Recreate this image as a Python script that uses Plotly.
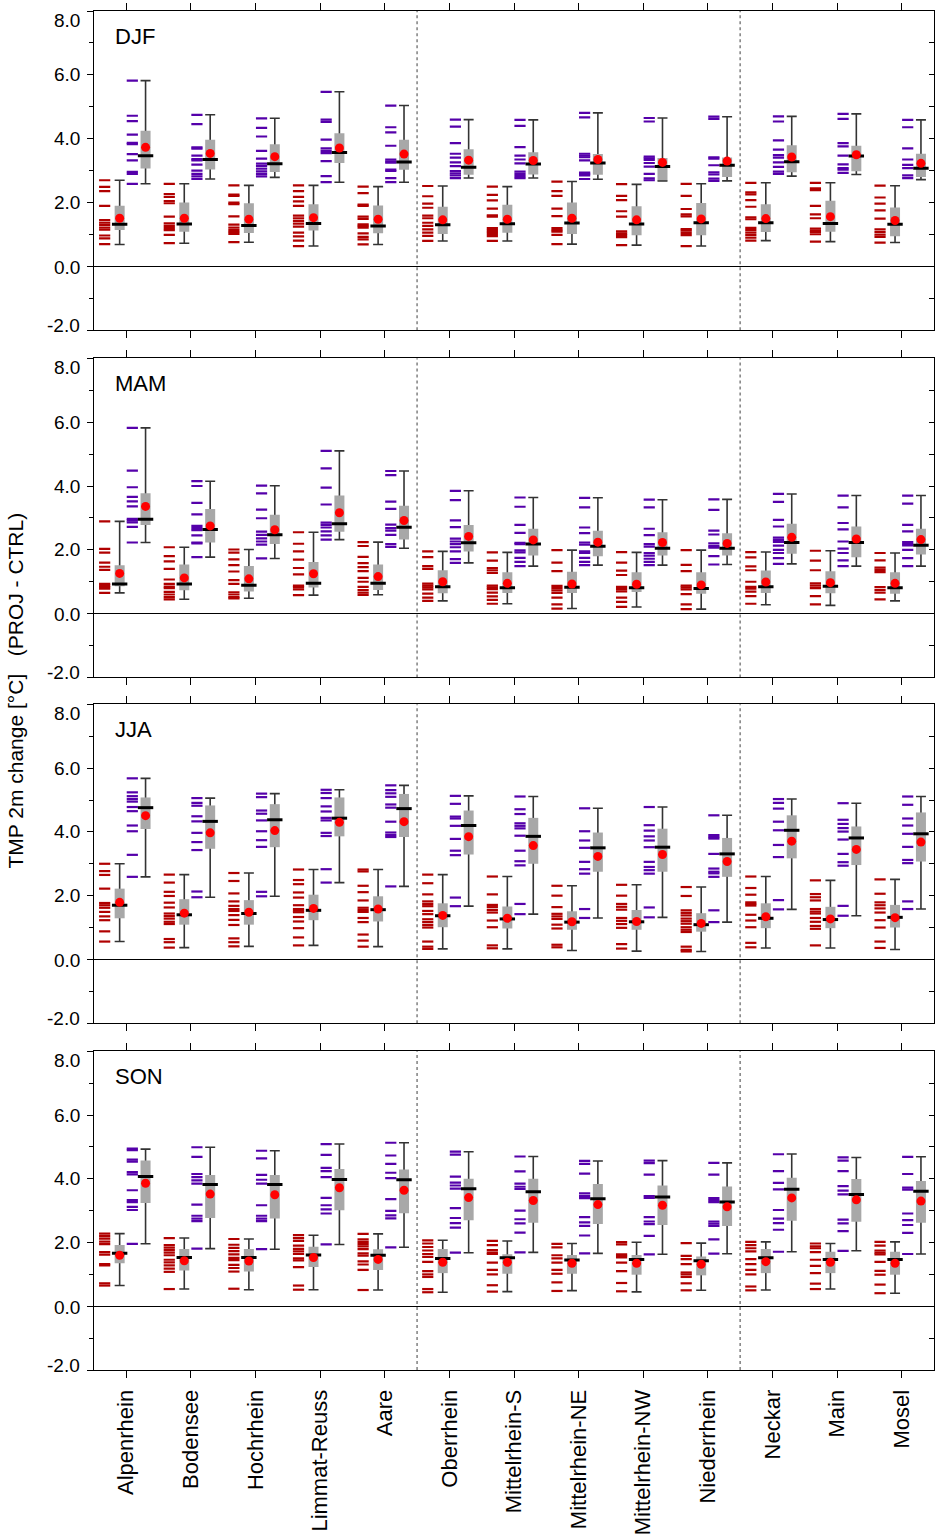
import plotly.graph_objects as go

REGIONS = ["Alpenrhein", "Bodensee", "Hochrhein", "Limmat-Reuss", "Aare", "Oberrhein",
           "Mittelrhein-S", "Mittelrhein-NE", "Mittelrhein-NW", "Niederrhein",
           "Neckar", "Main", "Mosel"]
SEASONS = ["DJF", "MAM", "JJA", "SON"]
Y_TICKS = [-2, 0, 2, 4, 6, 8]

# stats per region: [min, q25, median, q75, max, mean]
DJF_NEAR_STATS = [
    [0.69, 1.14, 1.32, 1.90, 2.70, 1.51], [0.73, 1.09, 1.33, 2.00, 2.59, 1.51],
    [0.76, 1.05, 1.28, 1.98, 2.54, 1.48], [0.64, 1.13, 1.35, 1.95, 2.54, 1.53],
    [0.69, 1.04, 1.27, 1.91, 2.50, 1.48], [0.80, 1.02, 1.31, 1.87, 2.52, 1.46],
    [0.80, 1.06, 1.34, 1.93, 2.50, 1.48], [0.70, 1.02, 1.36, 2.00, 2.66, 1.51],
    [0.67, 0.98, 1.33, 1.89, 2.57, 1.46], [0.64, 0.98, 1.37, 1.99, 2.59, 1.49],
    [0.81, 1.08, 1.37, 1.95, 2.62, 1.50], [0.78, 1.09, 1.35, 2.06, 2.62, 1.56],
    [0.75, 0.95, 1.32, 1.85, 2.53, 1.44]]
DJF_FAR_STATS = [
    [2.59, 3.07, 3.47, 4.25, 5.82, 3.73], [2.74, 3.04, 3.35, 3.97, 4.75, 3.54],
    [2.79, 2.96, 3.22, 3.83, 4.64, 3.44], [2.64, 3.24, 3.57, 4.17, 5.47, 3.71],
    [2.64, 3.03, 3.27, 3.97, 5.04, 3.52], [2.77, 2.87, 3.11, 3.67, 4.60, 3.33],
    [2.77, 2.88, 3.21, 3.58, 4.59, 3.32], [2.73, 2.87, 3.24, 3.52, 4.81, 3.35],
    [2.68, 2.70, 3.13, 3.40, 4.65, 3.26], [2.68, 2.80, 3.17, 3.41, 4.69, 3.30],
    [2.83, 2.95, 3.28, 3.80, 4.70, 3.43], [2.88, 2.98, 3.46, 3.78, 4.78, 3.50],
    [2.72, 2.80, 3.08, 3.53, 4.59, 3.23]]
MAM_NEAR_STATS = [
    [0.65, 0.86, 0.93, 1.52, 2.89, 1.26], [0.45, 0.73, 0.93, 1.54, 2.08, 1.12],
    [0.48, 0.69, 0.89, 1.49, 2.01, 1.09], [0.58, 0.82, 0.95, 1.62, 2.55, 1.25],
    [0.59, 0.74, 0.95, 1.54, 2.24, 1.16], [0.40, 0.64, 0.84, 1.36, 1.95, 1.00],
    [0.31, 0.65, 0.81, 1.30, 1.92, 0.95], [0.16, 0.65, 0.83, 1.31, 1.99, 0.93],
    [0.21, 0.68, 0.81, 1.30, 1.92, 0.92], [0.14, 0.62, 0.79, 1.30, 1.99, 0.90],
    [0.28, 0.65, 0.84, 1.35, 1.93, 0.99], [0.26, 0.64, 0.86, 1.33, 1.97, 0.97],
    [0.40, 0.62, 0.81, 1.30, 1.90, 0.95]]
MAM_FAR_STATS = [
    [2.23, 2.78, 2.96, 3.77, 5.82, 3.36], [1.77, 2.23, 2.64, 3.28, 4.15, 2.75],
    [1.73, 2.18, 2.47, 3.10, 4.01, 2.63], [2.32, 2.57, 2.82, 3.70, 5.10, 3.16],
    [2.05, 2.32, 2.71, 3.38, 4.47, 2.92], [1.59, 1.95, 2.22, 2.78, 3.85, 2.42],
    [1.49, 1.82, 2.18, 2.66, 3.64, 2.31], [1.52, 1.80, 2.11, 2.60, 3.63, 2.24],
    [1.52, 1.82, 2.05, 2.55, 3.57, 2.23], [1.54, 1.82, 2.05, 2.52, 3.58, 2.20],
    [1.56, 1.88, 2.23, 2.82, 3.75, 2.39], [1.49, 1.77, 2.23, 2.73, 3.70, 2.34],
    [1.49, 1.85, 2.14, 2.66, 3.70, 2.32]]
JJA_NEAR_STATS = [
    [0.56, 1.29, 1.70, 2.22, 3.00, 1.79], [0.37, 1.09, 1.40, 1.89, 2.66, 1.45],
    [0.41, 1.09, 1.44, 1.86, 2.71, 1.48], [0.44, 1.23, 1.54, 2.03, 2.82, 1.60],
    [0.40, 1.19, 1.56, 1.98, 2.82, 1.58], [0.33, 1.01, 1.37, 1.76, 2.66, 1.38],
    [0.33, 0.97, 1.27, 1.66, 2.60, 1.29], [0.28, 0.93, 1.17, 1.51, 2.31, 1.18],
    [0.26, 0.93, 1.18, 1.55, 2.34, 1.19], [0.25, 0.87, 1.09, 1.45, 2.27, 1.13],
    [0.36, 0.98, 1.29, 1.76, 2.60, 1.34], [0.36, 0.98, 1.25, 1.65, 2.48, 1.27],
    [0.31, 1.00, 1.32, 1.71, 2.51, 1.31]]
JJA_FAR_STATS = [
    [2.59, 4.09, 4.76, 5.08, 5.68, 4.51], [1.95, 3.47, 4.33, 4.83, 5.06, 3.97],
    [1.98, 3.52, 4.38, 4.87, 5.20, 4.04], [2.41, 3.86, 4.43, 5.08, 5.32, 4.30],
    [2.29, 3.84, 4.73, 5.19, 5.46, 4.32], [1.67, 3.29, 4.20, 4.67, 5.13, 3.85],
    [1.42, 3.00, 3.86, 4.44, 5.11, 3.57], [1.30, 2.75, 3.50, 3.98, 4.74, 3.23],
    [1.32, 2.75, 3.52, 4.10, 4.78, 3.29], [1.17, 2.59, 3.31, 3.81, 4.52, 3.07],
    [1.57, 3.17, 4.05, 4.52, 5.03, 3.71], [1.37, 2.96, 3.81, 4.17, 4.90, 3.45],
    [1.58, 3.07, 3.94, 4.61, 5.11, 3.68]]
SON_NEAR_STATS = [
    [0.65, 1.35, 1.66, 1.92, 2.28, 1.60], [0.54, 1.12, 1.53, 1.80, 2.14, 1.43],
    [0.52, 1.09, 1.53, 1.80, 2.11, 1.42], [0.52, 1.23, 1.61, 1.87, 2.23, 1.53],
    [0.51, 1.14, 1.60, 1.79, 2.27, 1.47], [0.44, 1.04, 1.50, 1.80, 2.07, 1.38],
    [0.46, 1.02, 1.52, 1.63, 2.05, 1.38], [0.49, 1.02, 1.45, 1.61, 1.97, 1.35],
    [0.45, 0.99, 1.47, 1.61, 2.01, 1.35], [0.50, 0.97, 1.43, 1.56, 1.98, 1.32],
    [0.51, 1.04, 1.52, 1.80, 2.02, 1.40], [0.54, 1.04, 1.47, 1.71, 1.97, 1.38],
    [0.41, 0.99, 1.47, 1.71, 2.02, 1.35]]
SON_FAR_STATS = [
    [1.96, 3.24, 4.07, 4.57, 4.93, 3.86], [1.81, 2.77, 3.82, 4.12, 4.99, 3.52],
    [1.79, 2.75, 3.82, 4.12, 4.88, 3.50], [1.94, 3.01, 3.98, 4.31, 5.09, 3.72],
    [1.85, 2.92, 3.97, 4.29, 5.13, 3.64], [1.68, 2.70, 3.69, 4.00, 4.85, 3.41],
    [1.69, 2.62, 3.59, 4.00, 4.70, 3.32], [1.66, 2.58, 3.37, 3.84, 4.56, 3.19],
    [1.63, 2.55, 3.43, 3.79, 4.57, 3.17], [1.65, 2.52, 3.27, 3.76, 4.50, 3.12],
    [1.71, 2.68, 3.67, 4.03, 4.78, 3.40], [1.74, 2.65, 3.51, 3.99, 4.67, 3.34],
    [1.64, 2.62, 3.61, 3.93, 4.69, 3.30]]

# individual model values per region
DJF_NEAR_MEMBERS = [
    [2.70, 2.49, 2.36, 1.90, 1.45, 1.37, 1.30, 1.22, 1.15, 0.97, 0.88, 0.70],
    [2.59, 2.27, 2.18, 2.05, 1.98, 1.56, 1.35, 1.27, 1.20, 1.14, 0.99, 0.73],
    [2.54, 2.25, 2.21, 2.00, 1.95, 1.57, 1.31, 1.22, 1.14, 1.08, 1.02, 0.76],
    [2.54, 2.36, 2.18, 2.04, 1.90, 1.59, 1.51, 1.43, 1.34, 1.25, 1.06, 0.94, 0.81, 0.64],
    [2.50, 2.30, 1.94, 1.90, 1.56, 1.49, 1.32, 1.27, 1.22, 1.04, 0.93, 0.85, 0.69],
    [2.52, 2.20, 1.97, 1.84, 1.59, 1.51, 1.37, 1.27, 1.16, 1.06, 0.96, 0.80],
    [2.50, 2.24, 2.07, 1.81, 1.60, 1.56, 1.20, 1.14, 1.08, 1.02, 0.95, 0.80],
    [2.66, 2.36, 2.21, 1.81, 1.58, 1.20, 1.14, 1.09, 0.99, 0.70],
    [2.58, 2.21, 2.08, 1.73, 1.56, 1.10, 1.04, 0.98, 0.92, 0.67],
    [2.59, 2.21, 1.80, 1.63, 1.57, 1.17, 1.12, 1.05, 0.98, 0.64],
    [2.62, 2.32, 2.26, 2.08, 1.87, 1.54, 1.48, 1.21, 1.14, 1.06, 0.98, 0.90, 0.81],
    [2.62, 2.45, 2.39, 1.90, 1.63, 1.51, 1.19, 1.13, 1.08, 1.01, 0.78],
    [2.53, 2.16, 1.97, 1.76, 1.50, 1.16, 1.08, 1.00, 0.93, 0.75]]
DJF_FAR_MEMBERS = [
    [5.82, 4.72, 4.55, 4.13, 3.87, 3.83, 3.52, 3.32, 2.96, 2.90, 2.59],
    [4.75, 4.46, 3.73, 3.69, 3.47, 3.36, 3.32, 3.19, 3.00, 2.90, 2.82, 2.74],
    [4.64, 4.34, 4.07, 3.62, 3.38, 3.22, 3.14, 3.06, 2.98, 2.90, 2.82],
    [5.47, 4.60, 4.53, 3.97, 3.70, 3.62, 3.55, 3.30, 2.83, 2.64],
    [5.04, 4.36, 4.20, 3.78, 3.35, 3.29, 3.25, 3.03, 2.99, 2.77, 2.64],
    [4.60, 4.38, 3.86, 3.53, 3.41, 3.26, 3.14, 2.99, 2.92, 2.85, 2.77],
    [4.59, 4.40, 3.74, 3.47, 3.35, 3.23, 2.97, 2.90, 2.83, 2.77],
    [4.81, 4.67, 3.53, 3.47, 3.42, 3.32, 2.94, 2.90, 2.85, 2.74],
    [4.65, 4.54, 3.44, 3.39, 3.34, 3.24, 3.13, 2.90, 2.76, 2.70],
    [4.69, 4.62, 3.42, 3.38, 3.17, 2.95, 2.88, 2.75, 2.68],
    [4.70, 4.54, 3.95, 3.66, 3.49, 3.41, 3.26, 3.12, 2.97, 2.90],
    [4.78, 4.62, 3.86, 3.76, 3.47, 3.20, 3.08, 3.03, 2.93],
    [4.59, 4.36, 3.70, 3.35, 3.18, 3.08, 2.85, 2.77]]
MAM_NEAR_MEMBERS = [
    [2.89, 2.03, 1.91, 1.60, 1.47, 1.37, 0.93, 0.88, 0.83, 0.78, 0.65],
    [2.08, 1.80, 1.64, 1.40, 1.07, 0.93, 0.85, 0.80, 0.68, 0.60, 0.52, 0.45],
    [2.01, 1.91, 1.70, 1.52, 1.32, 1.05, 0.93, 0.67, 0.60, 0.52, 0.48],
    [2.55, 2.19, 1.95, 1.69, 1.43, 1.23, 0.88, 0.83, 0.76, 0.58],
    [2.24, 2.12, 1.78, 1.58, 1.46, 1.33, 1.12, 1.00, 0.84, 0.74, 0.66, 0.59],
    [1.95, 1.77, 1.49, 1.40, 0.94, 0.88, 0.82, 0.76, 0.63, 0.50, 0.40],
    [1.92, 1.66, 1.43, 1.36, 1.28, 0.88, 0.82, 0.77, 0.66, 0.54, 0.43, 0.31],
    [1.99, 1.60, 1.33, 0.87, 0.80, 0.73, 0.65, 0.50, 0.29, 0.16],
    [1.93, 1.60, 1.35, 1.21, 0.84, 0.77, 0.70, 0.50, 0.37, 0.21],
    [1.99, 1.53, 1.33, 0.88, 0.82, 0.76, 0.61, 0.29, 0.14],
    [1.93, 1.76, 1.48, 1.36, 1.00, 0.84, 0.78, 0.69, 0.55, 0.31],
    [1.97, 1.66, 1.36, 0.95, 0.88, 0.80, 0.55, 0.29],
    [1.90, 1.67, 1.44, 1.37, 1.30, 0.83, 0.74, 0.66, 0.45]]
MAM_FAR_MEMBERS = [
    [5.82, 4.48, 3.96, 3.66, 3.52, 3.36, 2.97, 2.92, 2.86, 2.72, 2.23],
    [4.15, 4.00, 3.47, 3.11, 2.75, 2.68, 2.62, 2.45, 2.23, 2.20, 1.77],
    [4.01, 3.77, 3.26, 2.99, 2.57, 2.47, 2.36, 2.26, 2.16, 1.73],
    [5.10, 4.55, 3.95, 3.42, 2.85, 2.78, 2.70, 2.58, 2.45, 2.32],
    [4.47, 4.34, 3.51, 3.28, 2.79, 2.68, 2.60, 2.47, 2.18, 2.09],
    [3.85, 3.56, 2.92, 2.71, 2.35, 2.26, 2.18, 2.08, 1.95, 1.71, 1.59],
    [3.64, 3.35, 2.78, 2.53, 2.22, 2.18, 1.98, 1.92, 1.75, 1.62, 1.49],
    [3.63, 3.33, 2.70, 2.52, 2.23, 2.16, 1.95, 1.90, 1.75, 1.62, 1.52],
    [3.57, 3.33, 2.66, 2.46, 2.18, 2.10, 1.90, 1.82, 1.72, 1.62, 1.52],
    [3.58, 3.25, 2.60, 2.48, 2.20, 2.12, 2.07, 1.80, 1.54],
    [3.75, 3.50, 2.94, 2.73, 2.38, 2.31, 2.25, 2.13, 2.00, 1.90, 1.74, 1.56],
    [3.70, 3.33, 2.84, 2.64, 2.26, 2.04, 1.90, 1.67, 1.49],
    [3.70, 3.45, 2.78, 2.58, 2.24, 2.18, 2.14, 2.00, 1.74, 1.49]]
JJA_NEAR_MEMBERS = [
    [3.00, 2.77, 2.65, 2.22, 1.77, 1.70, 1.62, 1.49, 1.35, 1.23, 0.88, 0.56],
    [2.66, 2.41, 2.12, 1.99, 1.78, 1.63, 1.44, 1.36, 1.28, 1.18, 1.11, 0.64, 0.54, 0.37],
    [2.71, 2.46, 2.07, 1.82, 1.68, 1.58, 1.52, 1.39, 1.24, 1.08, 0.66, 0.54, 0.41],
    [2.82, 2.49, 2.36, 2.10, 1.94, 1.70, 1.58, 1.53, 1.48, 1.33, 1.19, 0.98, 0.69, 0.44],
    [2.82, 2.76, 2.31, 2.11, 1.85, 1.62, 1.55, 1.49, 1.30, 1.17, 0.78, 0.59, 0.40],
    [2.66, 2.39, 2.04, 1.82, 1.74, 1.67, 1.52, 1.42, 1.26, 1.17, 1.08, 1.00, 0.56, 0.40, 0.33],
    [2.60, 2.04, 1.71, 1.64, 1.55, 1.47, 1.22, 1.01, 0.44, 0.35],
    [2.31, 2.00, 1.64, 1.43, 1.35, 1.27, 1.09, 0.97, 0.46, 0.38],
    [2.34, 2.00, 1.74, 1.65, 1.56, 1.30, 1.21, 1.11, 0.99, 0.48, 0.34],
    [2.27, 1.99, 1.54, 1.46, 1.38, 1.28, 1.20, 1.12, 1.01, 0.93, 0.86, 0.40, 0.30, 0.25],
    [2.60, 2.24, 2.03, 1.79, 1.74, 1.69, 1.40, 1.22, 1.01, 0.52, 0.38],
    [2.48, 2.05, 1.95, 1.85, 1.58, 1.50, 1.44, 1.30, 1.18, 1.05, 0.96, 0.44],
    [2.51, 2.06, 1.79, 1.70, 1.60, 1.47, 1.23, 1.00, 0.56, 0.36]]
JJA_FAR_MEMBERS = [
    [5.68, 5.24, 5.12, 5.03, 4.95, 4.78, 4.65, 4.20, 4.02, 3.28, 2.59],
    [5.06, 4.91, 4.82, 4.49, 4.33, 3.97, 3.68, 3.43, 2.13, 1.95],
    [5.20, 5.09, 4.67, 4.57, 4.36, 4.02, 3.74, 3.53, 2.12, 1.98],
    [5.32, 5.22, 5.06, 4.80, 4.64, 4.44, 4.36, 3.97, 3.87, 2.83, 2.41],
    [5.46, 5.31, 5.21, 5.10, 4.86, 4.76, 4.32, 3.98, 3.90, 3.84, 2.29],
    [5.13, 4.88, 4.48, 4.42, 4.19, 3.78, 3.41, 3.27, 1.94, 1.67],
    [5.11, 4.71, 4.56, 4.27, 4.19, 4.11, 3.88, 3.41, 3.08, 2.95, 1.74, 1.42],
    [4.74, 4.02, 3.73, 3.50, 3.06, 2.83, 2.69, 1.58, 1.30],
    [4.78, 4.21, 4.04, 3.86, 3.73, 3.52, 3.06, 2.90, 2.80, 2.69, 1.63, 1.32],
    [4.52, 3.90, 3.84, 3.79, 3.31, 2.85, 2.75, 2.70, 2.59, 1.54, 1.17],
    [5.03, 4.91, 4.73, 4.32, 4.05, 3.59, 3.21, 1.86, 1.57],
    [4.90, 4.38, 4.25, 4.12, 4.01, 3.76, 3.31, 3.05, 2.94, 1.68, 1.37],
    [5.11, 4.85, 4.42, 4.20, 3.94, 3.53, 3.12, 3.02, 1.82, 1.58]]
SON_NEAR_MEMBERS = [
    [2.28, 2.20, 2.12, 2.03, 1.95, 1.70, 1.62, 1.32, 1.28, 0.72, 0.65],
    [2.14, 1.92, 1.84, 1.76, 1.68, 1.60, 1.46, 1.38, 1.28, 1.18, 1.08, 0.54],
    [2.11, 1.93, 1.83, 1.73, 1.63, 1.52, 1.45, 1.30, 1.20, 1.09, 0.55],
    [2.23, 2.14, 2.05, 1.90, 1.80, 1.72, 1.64, 1.50, 1.44, 1.23, 0.65, 0.52],
    [2.27, 2.10, 2.02, 1.95, 1.88, 1.79, 1.66, 1.59, 1.41, 1.31, 1.14, 0.51],
    [2.07, 1.97, 1.86, 1.75, 1.64, 1.55, 1.39, 1.10, 1.00, 0.92, 0.54, 0.44],
    [2.05, 1.92, 1.76, 1.68, 1.64, 1.37, 1.14, 1.00, 0.66, 0.46],
    [1.96, 1.85, 1.60, 1.50, 1.37, 1.14, 1.02, 0.75, 0.48],
    [2.01, 1.94, 1.63, 1.58, 1.53, 1.37, 1.10, 0.73, 0.47],
    [1.98, 1.58, 1.48, 1.32, 1.06, 1.00, 0.92, 0.72, 0.50],
    [2.02, 1.92, 1.82, 1.72, 1.48, 1.32, 1.14, 1.00, 0.62, 0.50],
    [1.97, 1.88, 1.82, 1.70, 1.46, 1.27, 1.04, 0.71, 0.54],
    [2.02, 1.90, 1.75, 1.68, 1.63, 1.39, 1.11, 0.99, 0.68, 0.41]]
SON_FAR_MEMBERS = [
    [4.95, 4.90, 4.60, 4.54, 4.21, 4.14, 3.64, 3.33, 3.27, 3.12, 3.02, 1.96],
    [4.99, 4.69, 4.15, 4.05, 3.95, 3.85, 3.19, 2.84, 2.75, 2.67, 1.81],
    [4.88, 4.64, 4.12, 3.97, 3.85, 3.17, 2.84, 2.75, 2.67, 1.79],
    [5.09, 4.75, 4.34, 4.24, 4.05, 3.40, 3.17, 3.04, 2.91, 1.94],
    [5.13, 4.73, 4.47, 4.19, 4.02, 3.36, 2.99, 2.85, 2.76, 1.85],
    [4.85, 4.76, 4.07, 3.88, 3.79, 3.69, 3.08, 2.77, 2.61, 2.47, 1.68],
    [4.70, 4.23, 3.85, 3.75, 3.68, 3.00, 2.73, 2.60, 2.31, 1.69],
    [4.56, 4.47, 4.16, 3.54, 3.46, 3.39, 2.80, 2.63, 2.52, 2.22, 1.66],
    [4.57, 4.49, 4.13, 3.46, 3.40, 2.80, 2.66, 2.58, 2.21, 1.63],
    [4.50, 4.13, 3.39, 3.33, 3.27, 2.66, 2.59, 2.52, 2.10, 1.65],
    [4.77, 4.24, 3.87, 3.67, 3.02, 2.75, 2.61, 2.40, 1.71],
    [4.67, 4.57, 4.24, 3.77, 3.63, 3.51, 2.72, 2.60, 2.36, 1.74],
    [4.69, 4.15, 3.72, 3.66, 2.91, 2.70, 2.55, 2.30, 1.64]]

PANELS = [
    ("DJF", DJF_NEAR_STATS, DJF_FAR_STATS, DJF_NEAR_MEMBERS, DJF_FAR_MEMBERS),
    ("MAM", MAM_NEAR_STATS, MAM_FAR_STATS, MAM_NEAR_MEMBERS, MAM_FAR_MEMBERS),
    ("JJA", JJA_NEAR_STATS, JJA_FAR_STATS, JJA_NEAR_MEMBERS, JJA_FAR_MEMBERS),
    ("SON", SON_NEAR_STATS, SON_FAR_STATS, SON_NEAR_MEMBERS, SON_FAR_MEMBERS),
]

# ---------- styling ----------
FONT = "Liberation Sans, Arial, Helvetica, sans-serif"
NEAR_COLOR = "#B00000"
FAR_COLOR = "#5500AA"
BOX_COLOR = "#A8A8A8"
OFF_NEAR_DASH, OFF_NEAR_BOX = -0.335, -0.103
OFF_FAR_DASH, OFF_FAR_BOX = 0.093, 0.298

# panel vertical domains (fraction of plot area)
DOMAINS = [[0.765, 1.0], [0.5096, 0.7444], [0.2552, 0.4898], [0.0, 0.2345]]
# small vertical nudges (px) of the y tick labels, as in the original
LABEL_SHIFT = {-2: 5, 0: -1, 2: 0, 4: 0, 6: 0, 8: -9}

fig = go.Figure()


def add_group(stats, members, dash_off, box_off, color, xa, ya):
    xs, ys = [], []
    for i, vals in enumerate(members):
        for v in vals:
            xs.append(i + dash_off)
            ys.append(v)
    fig.add_trace(go.Scatter(
        x=xs, y=ys, mode="markers", xaxis=xa, yaxis=ya, showlegend=False, hoverinfo="skip",
        marker=dict(symbol="line-ew", size=8, line=dict(width=2.2, color=color))))
    bx = [i + box_off for i in range(len(stats))]
    mins = [s[0] for s in stats]
    q1 = [s[1] for s in stats]
    med = [s[2] for s in stats]
    q3 = [s[3] for s in stats]
    maxs = [s[4] for s in stats]
    mean = [s[5] for s in stats]
    # whiskers (min-max)
    fig.add_trace(go.Scatter(
        x=bx, y=mins, mode="markers", xaxis=xa, yaxis=ya, showlegend=False, hoverinfo="skip",
        marker=dict(size=1, opacity=0),
        error_y=dict(type="data", symmetric=False,
                     array=[mx - mn for mx, mn in zip(maxs, mins)],
                     arrayminus=[0] * len(mins),
                     color="#333333", thickness=1.6, width=5)))
    # box (q25-q75)
    fig.add_trace(go.Scatter(
        x=bx, y=q1, mode="markers", xaxis=xa, yaxis=ya, showlegend=False, hoverinfo="skip",
        marker=dict(size=1, opacity=0),
        error_y=dict(type="data", symmetric=False,
                     array=[b - a for a, b in zip(q1, q3)],
                     arrayminus=[0] * len(q1),
                     color=BOX_COLOR, thickness=10, width=0)))
    # median
    fig.add_trace(go.Scatter(
        x=bx, y=med, mode="markers", xaxis=xa, yaxis=ya, showlegend=False, hoverinfo="skip",
        marker=dict(symbol="line-ew", size=11, line=dict(width=3, color="black"))))
    # mean
    fig.add_trace(go.Scatter(
        x=bx, y=mean, mode="markers", xaxis=xa, yaxis=ya, showlegend=False, hoverinfo="skip",
        marker=dict(symbol="circle", size=9, color="#FF0000", line=dict(width=0))))


layout = dict(
    width=938, height=1538,
    margin=dict(l=94, r=3, t=6, b=164),
    paper_bgcolor="white", plot_bgcolor="white",
    font=dict(family=FONT, color="black", size=19),
    showlegend=False,
    shapes=[], annotations=[],
)

for p, (season, near_s, far_s, near_m, far_m) in enumerate(PANELS):
    n = p + 1
    xa = "x" if n == 1 else f"x{n}"
    ya = "y" if n == 1 else f"y{n}"
    yr = f"y{n + 4}"
    add_group(near_s, near_m, OFF_NEAR_DASH, OFF_NEAR_BOX, NEAR_COLOR, xa, ya)
    add_group(far_s, far_m, OFF_FAR_DASH, OFF_FAR_BOX, FAR_COLOR, xa, ya)
    fig.add_trace(go.Scatter(x=[], y=[], xaxis=xa, yaxis=yr, showlegend=False))

    layout[f"xaxis{n}" if n > 1 else "xaxis"] = dict(
        domain=[0, 1], anchor=ya, range=[-0.5, len(REGIONS) - 0.5],
        tickmode="array", tickvals=list(range(len(REGIONS))), ticktext=REGIONS,
        showticklabels=(n == 4), tickangle=-90, tickfont=dict(size=22, family=FONT),
        ticks="outside", ticklen=7, tickwidth=1, tickcolor="black",
        showline=True, linecolor="black", linewidth=1, mirror="ticks",
        showgrid=False, zeroline=False, ticklabelstandoff=3,
    )
    layout[f"yaxis{n}" if n > 1 else "yaxis"] = dict(
        domain=DOMAINS[p], anchor=xa, range=[-2, 8],
        tickmode="array", tickvals=Y_TICKS, showticklabels=False,
        ticks="outside", ticklen=6, tickwidth=1, tickcolor="black",
        minor=dict(tickmode="array", tickvals=[-1, 1, 3, 5, 7], ticks="outside",
                   ticklen=4, tickwidth=1, tickcolor="black", showgrid=False),
        showline=True, linecolor="black", linewidth=1, mirror=True,
        showgrid=False, zeroline=True, zerolinecolor="black", zerolinewidth=1,
    )
    layout[f"yaxis{n + 4}"] = dict(
        overlaying=ya, side="right", anchor=xa, range=[-2, 8],
        tickmode="array", tickvals=list(range(-2, 9)), showticklabels=False,
        ticks="inside", ticklen=5, tickwidth=1, tickcolor="black",
        showline=False, showgrid=False, zeroline=False,
    )
    for xv in (4.5, 9.5):
        layout["shapes"].append(dict(
            type="line", xref=xa, yref=f"{ya} domain", x0=xv, x1=xv, y0=0, y1=1,
            line=dict(color="#808080", width=1.5, dash="dot"), layer="below"))
    for tv in Y_TICKS:
        layout["annotations"].append(dict(
            text=f"{tv:.1f}", xref=f"{xa} domain", yref=ya, x=0, y=tv,
            xanchor="right", yanchor="middle", xshift=-12, yshift=LABEL_SHIFT[tv],
            showarrow=False, font=dict(size=19, family=FONT, color="black")))
    layout["annotations"].append(dict(
        text=season, xref=f"{xa} domain", yref=f"{ya} domain", x=0.023, y=0.92,
        xanchor="left", yanchor="middle", showarrow=False,
        font=dict(size=22, family=FONT, color="black")))

layout["annotations"].append(dict(
    text="TMP 2m change [°C]\u00a0\u00a0\u00a0(PROJ - CTRL)",
    xref="paper", yref="paper", x=-0.094, y=0.5, xanchor="center", yanchor="middle",
    textangle=-90, showarrow=False, font=dict(size=21, family=FONT, color="black")))

fig.update_layout(**layout)
fig.write_html("out.html", config={"displayModeBar": False},
               post_script="document.body.style.margin='0';document.body.style.padding='0';")
